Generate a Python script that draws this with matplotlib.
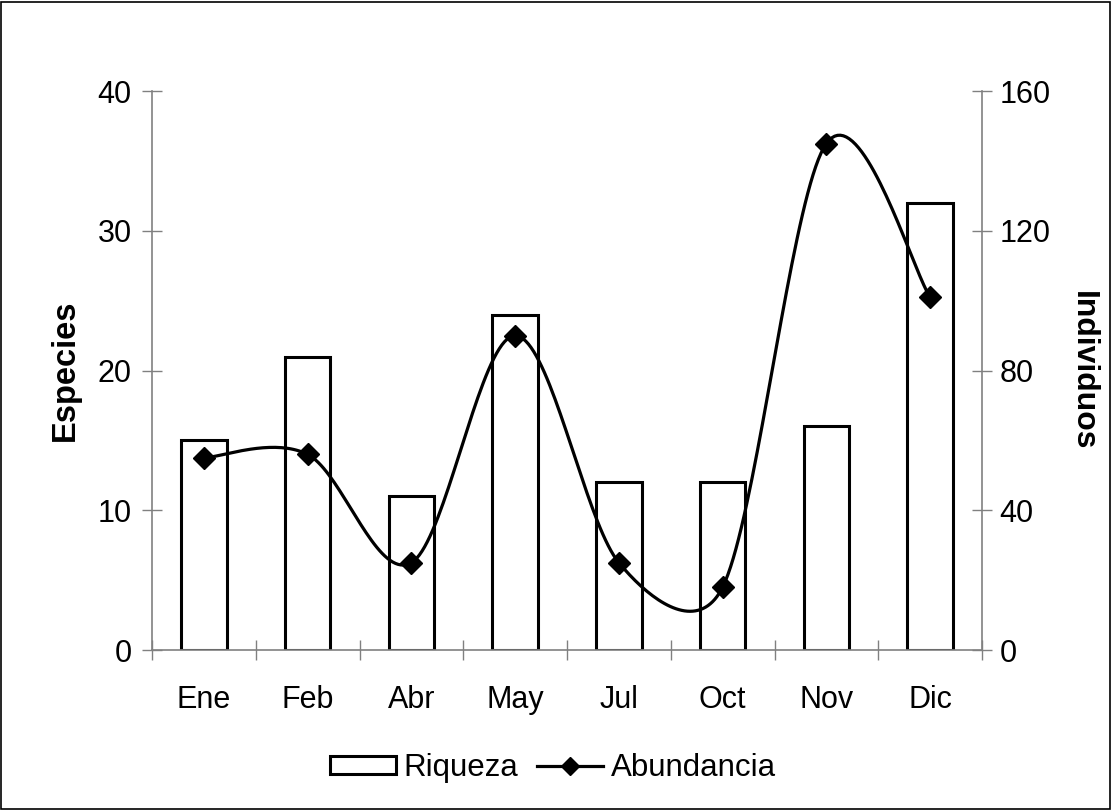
import matplotlib
matplotlib.use('Agg')
import matplotlib.pyplot as plt
from matplotlib.lines import Line2D
from matplotlib.patches import Patch, Rectangle
import numpy as np

plt.rcParams['font.family'] = ['Liberation Sans', 'DejaVu Sans']

# Monthly data
meses = ['Ene', 'Feb', 'Abr', 'May', 'Jul', 'Oct', 'Nov', 'Dic']
riqueza = [15, 21, 11, 24, 12, 12, 16, 32]          # especies
abundancia = [55, 56, 25, 90, 25, 18, 145, 101]     # individuos

gris = '#808080'


def excel_smooth(pts, n=40):
    # Bezier smoothing with control arms limited to half the segment length
    pts = np.asarray(pts, dtype=float)
    out = [pts[0]]
    k = len(pts)
    for i in range(k - 1):
        p0 = pts[i - 1] if i > 0 else pts[i]
        p1 = pts[i]
        p2 = pts[i + 1]
        p3 = pts[i + 2] if i + 2 < k else pts[i + 1]
        d02 = np.hypot(*(p2 - p0))
        d12 = np.hypot(*(p2 - p1))
        d13 = np.hypot(*(p3 - p1))
        f1 = 1 / 6 if d02 / 6 < d12 / 2 else (d12 / 2) / d02
        f2 = 1 / 6 if d13 / 6 < d12 / 2 else (d12 / 2) / d13
        c1 = p1 + f1 * (p2 - p0)
        c2 = p2 - f2 * (p3 - p1)
        t = np.linspace(0, 1, n)[1:, None]
        seg = ((1 - t) ** 3 * p1 + 3 * (1 - t) ** 2 * t * c1
               + 3 * (1 - t) * t ** 2 * c2 + t ** 3 * p2)
        out.extend(seg)
    return np.array(out)


fig = plt.figure(figsize=(11.12, 8.10), dpi=100)
fig.patches.append(Rectangle((0.001, 0.001), 0.997, 0.997, transform=fig.transFigure,
                             fill=False, edgecolor='black', linewidth=1.2))
ax = fig.add_axes([0.1367, 0.1975, 0.7464, 0.69])
ax2 = ax.twinx()

x = np.arange(len(meses))
ax.bar(x, riqueza, width=0.44, color='white', edgecolor='black', linewidth=2.2, zorder=2)

ax.set_xlim(-0.5, len(meses) - 0.5)
ax.set_ylim(0, 40)
ax2.set_ylim(0, 160)
ax.set_yticks([0, 10, 20, 30, 40])
ax2.set_yticks([0, 40, 80, 120, 160])

# smoothed line computed in screen space, then mapped back to data
fig.canvas.draw()
disp = ax2.transData.transform(np.column_stack([x, abundancia]))
curve = ax2.transData.inverted().transform(excel_smooth(disp))
ax2.plot(curve[:, 0], curve[:, 1], color='black', linewidth=2.3, zorder=3)
ax2.plot(x, abundancia, linestyle='none', marker='D', markersize=11,
         color='black', zorder=4)

# category labels without ticks, boundary ticks as minor ticks
ax.set_xticks(x)
ax.set_xticklabels(meses)
ax.set_xticks(np.arange(len(meses) + 1) - 0.5, minor=True)
ax.tick_params(axis='x', which='major', length=0, pad=25, labelsize=22)
ax.tick_params(axis='x', which='minor', direction='inout', length=15, color=gris, width=1)
ax.tick_params(axis='y', direction='inout', length=15, color=gris, width=1, pad=7, labelsize=22)
ax2.tick_params(axis='y', direction='inout', length=15, color=gris, width=1, pad=5, labelsize=22)

for a in (ax, ax2):
    for s in a.spines.values():
        s.set_visible(False)
ax.spines['left'].set_visible(True)
ax.spines['bottom'].set_visible(True)
ax2.spines['right'].set_visible(True)
for s in (ax.spines['left'], ax.spines['bottom'], ax2.spines['right']):
    s.set_color(gris)
    s.set_linewidth(1.2)

ax.set_ylabel('Especies', fontsize=23.5, fontweight='bold', labelpad=12)
ax2.set_ylabel('Individuos', fontsize=23, fontweight='bold', rotation=-90, labelpad=34)

handles = [Patch(facecolor='white', edgecolor='black', linewidth=2.2),
           Line2D([], [], color='black', linewidth=2.3, marker='D', markersize=9)]
fig.legend(handles, ['Riqueza', 'Abundancia'], loc='center', ncol=2,
           bbox_to_anchor=(553 / 1112, 1 - 768 / 810), frameon=False,
           fontsize=22.5, handlelength=2.1, handleheight=0.55, handletextpad=0.25,
           columnspacing=0.6)

fig.savefig('out.png', dpi=100)
